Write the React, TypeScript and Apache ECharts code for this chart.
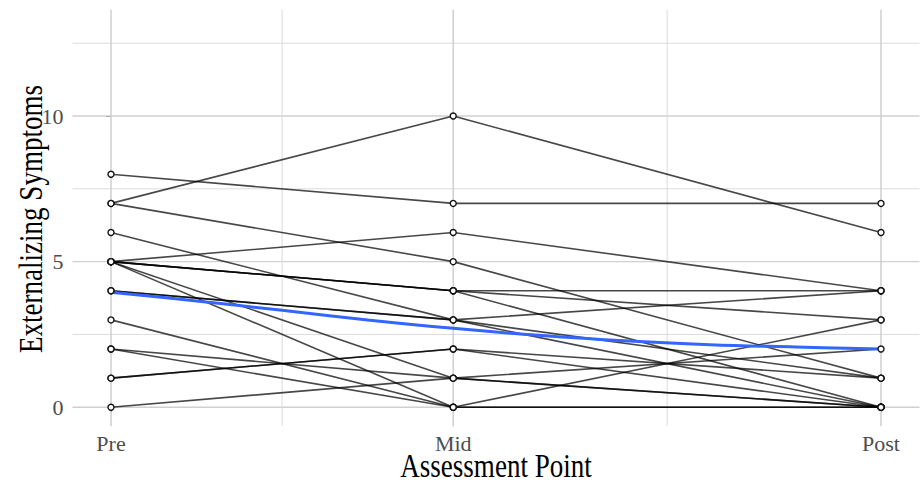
import React, { useEffect, useRef } from 'react';
import * as echarts from 'echarts';

// Assessment points (numeric positions on the time axis) and their labels
const timeLabels = ['Pre', 'Mid', 'Post'];
const timePositions = [0, 4, 9];

// One entry per participant
const preScores = [8, 7, 7, 6, 5, 5, 5, 5, 5, 5, 4, 4, 3, 2, 2, 1, 1, 0];
const midScores = [7, 10, 5, 3, 6, 4, 4, 4, 1, 0, 3, 3, 0, 1, 0, 2, 2, 1];
const postScores = [7, 6, 1, 1, 4, 4, 3, 0, 2, 0, 4, 0, 0, 0, 3, 1, 0, 0];

// Smoothed trend
const smoothX = [0, 1, 2, 3, 4, 5, 6, 7, 8, 9];
const smoothY = [3.95, 3.65, 3.33, 3.0, 2.71, 2.47, 2.28, 2.15, 2.07, 2.0];

// Axes
const yTicks = [0, 5, 10];
const yMinorGrid = [2.5, 7.5, 12.5];
const xMinorGrid = [2, 6.5];
const xMin = -0.45;
const xMax = 9.45;
const yMin = -0.65;
const yMax = 13.65;

export default function App() {
  const ref = useRef<HTMLDivElement>(null);

  useEffect(() => {
    document.body.style.margin = '0';
    const chart = echarts.init(ref.current!, null, { renderer: 'svg' });

    const gridLine = (pts: number[][], color: string, width: number) => ({
      type: 'line',
      data: pts,
      symbol: 'none',
      silent: true,
      z: 1,
      lineStyle: { color, width },
    });

    const gridSeries: any[] = [];
    yTicks.forEach((v) => gridSeries.push(gridLine([[xMin, v], [xMax, v]], '#d0d0d0', 1.3)));
    yMinorGrid.forEach((v) => gridSeries.push(gridLine([[xMin, v], [xMax, v]], '#dcdcdc', 1)));
    timePositions.forEach((v) => gridSeries.push(gridLine([[v, yMin], [v, yMax]], '#cccccc', 1.4)));
    xMinorGrid.forEach((v) => gridSeries.push(gridLine([[v, yMin], [v, yMax]], '#dcdcdc', 1)));

    const subjectSeries = preScores.map((p, i) => ({
      type: 'line',
      data: [
        [timePositions[0], p],
        [timePositions[1], midScores[i]],
        [timePositions[2], postScores[i]],
      ],
      symbol: 'none',
      silent: true,
      z: 3,
      lineStyle: { color: 'rgba(0,0,0,0.72)', width: 1.6 },
    }));

    const points: number[][] = [];
    preScores.forEach((p, i) => {
      points.push([timePositions[0], p]);
      points.push([timePositions[1], midScores[i]]);
      points.push([timePositions[2], postScores[i]]);
    });

    const option: any = {
      animation: false,
      backgroundColor: '#ffffff',
      grid: {
        left: 72.5,
        right: 3.5,
        top: 9.7,
        bottom: 57.8,
        containLabel: false,
        outerBoundsMode: 'none',
      },
      xAxis: {
        type: 'value',
        min: xMin,
        max: xMax,
        axisLine: { show: false },
        splitLine: { show: false },
        axisTick: {
          show: true,
          customValues: timePositions,
          length: 5,
          lineStyle: { color: '#555555', width: 1 },
        },
        axisLabel: {
          customValues: timePositions,
          formatter: (v: number) => {
            const k = timePositions.indexOf(v);
            return k >= 0 ? timeLabels[k] : '';
          },
          fontFamily: 'Liberation Serif',
          fontSize: 22,
          color: '#4d4d4d',
          margin: 6,
        },
      },
      yAxis: {
        type: 'value',
        min: yMin,
        max: yMax,
        axisLine: { show: false },
        splitLine: { show: false },
        axisTick: {
          show: true,
          customValues: yTicks,
          length: 5,
          lineStyle: { color: '#555555', width: 1 },
        },
        axisLabel: {
          customValues: yTicks,
          fontFamily: 'Liberation Serif',
          fontSize: 22,
          color: '#4d4d4d',
          margin: 9,
        },
      },
      graphic: [
        {
          type: 'text',
          x: 496,
          y: 466,
          scaleX: 0.82,
          style: {
            text: 'Assessment Point',
            font: '33px "Liberation Serif"',
            fill: '#000000',
            align: 'center',
            verticalAlign: 'middle',
          },
        },
        {
          type: 'text',
          x: 31,
          y: 219,
          rotation: Math.PI / 2,
          scaleX: 0.82,
          style: {
            text: 'Externalizing Symptoms',
            font: '33px "Liberation Serif"',
            fill: '#000000',
            align: 'center',
            verticalAlign: 'middle',
          },
        },
      ],
      series: [
        ...gridSeries,
        ...subjectSeries,
        {
          type: 'line',
          data: smoothX.map((x, i) => [x, smoothY[i]]),
          smooth: 0.4,
          symbol: 'none',
          silent: true,
          z: 4,
          lineStyle: { color: '#3366FF', width: 3 },
        },
        {
          type: 'scatter',
          data: points,
          symbol: 'circle',
          symbolSize: 6,
          silent: true,
          z: 5,
          itemStyle: { color: '#ffffff', borderColor: '#111111', borderWidth: 1.4, opacity: 1 },
        },
      ],
    };

    chart.setOption(option);
    return () => chart.dispose();
  }, []);

  return (
    <div
      ref={ref}
      style={{ position: 'absolute', left: 0, top: 0, width: 923, height: 484 }}
    />
  );
}
